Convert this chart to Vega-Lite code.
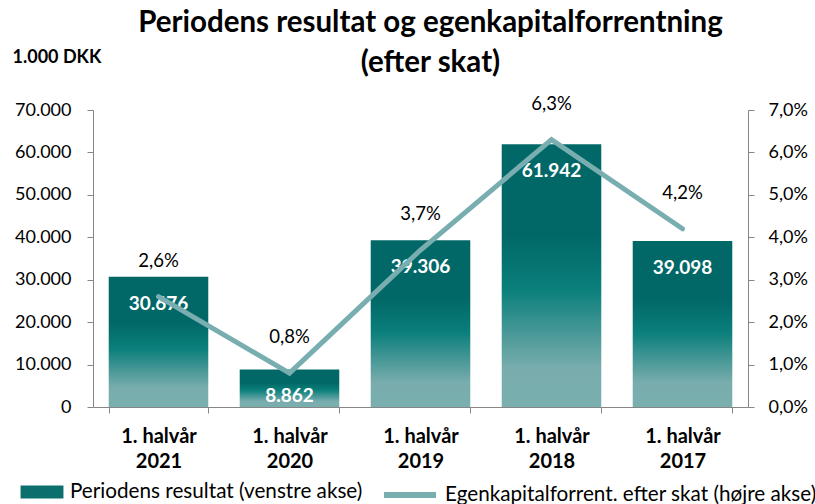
{
  "$schema": "https://vega.github.io/schema/vega-lite/v6.json",
  "width": 655,
  "height": 297,
  "autosize": "none",
  "padding": {"left": 93, "top": 110, "right": 67, "bottom": 97},
  "background": "white",
  "config": {
    "font": "Lato",
    "locale": {"number": {"decimal": ",", "thousands": ".", "grouping": [3], "currency": ["", " kr."]}},
    "view": {"stroke": null},
    "axis": {"grid": false, "domainColor": "#868686", "tickColor": "#868686", "labelColor": "#000000", "labelFont": "Lato", "labelFontSize": 18, "tickSize": 6}
  },
  "title": {
    "text": ["Periodens resultat og egenkapitalforrentning", "(efter skat)"],
    "font": "Lato",
    "fontSize": 29.5,
    "fontWeight": "bold",
    "color": "#000000",
    "anchor": "middle",
    "lineHeight": 40,
    "offset": -27,
    "dx": 10,
    "dy": 3
  },
  "data": {
    "values": [
      {"period": "2021", "resultat": 30676, "ekf": 0.026},
      {"period": "2020", "resultat": 8862, "ekf": 0.008},
      {"period": "2019", "resultat": 39306, "ekf": 0.037},
      {"period": "2018", "resultat": 61942, "ekf": 0.063},
      {"period": "2017", "resultat": 39098, "ekf": 0.042}
    ]
  },
  "encoding": {
    "x": {
      "field": "period",
      "type": "nominal",
      "sort": null,
      "scale": {"paddingInner": 0.24, "paddingOuter": 0.12},
      "axis": {
        "title": null,
        "labelAngle": 0,
        "labelExpr": "datum.label ? ['1. halvår', datum.label] : ''",
        "labelFontWeight": "bold",
        "labelFontSize": 20,
        "labelLineHeight": 25,
        "labelPadding": 13,
        "tickBand": "extent",
        "tickSize": 6
      }
    }
  },
  "layer": [
    {
      "encoding": {
        "y": {
          "field": "resultat",
          "type": "quantitative",
          "scale": {"domain": [0, 70000]},
          "axis": {
            "orient": "left",
            "format": ",.0f",
            "tickCount": 7,
            "labelPadding": 16,
            "title": "1.000 DKK",
            "titleAngle": 0,
            "titleFontSize": 18,
            "titleFontWeight": "bold",
            "titleColor": "#000000",
            "titleAlign": "left",
            "titleBaseline": "middle",
            "titleX": -81,
            "titleY": -53
          }
        }
      },
      "layer": [
        {
          "mark": {
            "type": "bar",
            "color": {"gradient": "linear", "x1": 0, "y1": 0, "x2": 0, "y2": 1,
              "stops": [
                {"offset": 0, "color": "#016867"},
                {"offset": 0.35, "color": "#016867"},
                {"offset": 0.55, "color": "#0a7f7b"},
                {"offset": 0.85, "color": "#78acad"},
                {"offset": 1, "color": "#7aafb0"}
              ]}
          }
        },
        {
          "mark": {"type": "bar", "opacity": 0},
          "encoding": {
            "color": {
              "datum": "Periodens resultat (venstre akse)",
              "type": "nominal",
              "scale": {"range": ["#0b6f6d"]},
              "legend": {
                "title": null,
                "orient": "none",
                "legendX": -64,
                "legendY": 369,
                "symbolType": "M-1.65,-0.5H1.65V0.5H-1.65Z",
                "symbolSize": 676,
                "symbolOpacity": 1,
                "symbolStrokeWidth": 0,
                "labelOffset": 15,
                "labelFontSize": 20.7,
                "labelColor": "#000000",
                "labelFont": "Lato",
                "labelLimit": 400
              }
            }
          }
        },
        {
          "mark": {"type": "text", "color": "white", "fontWeight": "bold", "fontSize": 19, "baseline": "middle", "dy": 27},
          "encoding": {
            "text": {"field": "resultat", "type": "quantitative", "format": ",.0f"}
          }
        }
      ]
    },
    {
      "encoding": {
        "y": {
          "field": "ekf",
          "type": "quantitative",
          "scale": {"domain": [0, 0.07]},
          "axis": {"orient": "right", "format": ".1%", "tickCount": 7, "labelPadding": 14, "title": null}
        }
      },
      "layer": [
        {
          "mark": {"type": "line", "strokeWidth": 5, "strokeCap": "round", "strokeJoin": "miter"},
          "encoding": {
            "color": {
              "datum": "Egenkapitalforrent. efter skat (højre akse)",
              "type": "nominal",
              "scale": {"range": ["#79aeb0"]},
              "legend": {
                "title": null,
                "orient": "none",
                "legendX": 288,
                "legendY": 356,
                "symbolType": "stroke",
                "symbolSize": 2704,
                "symbolStrokeWidth": 6,
                "symbolStrokeCap": "round",
                "labelOffset": 6,
                "labelFontSize": 20.7,
                "labelColor": "#000000",
                "labelFont": "Lato",
                "labelLimit": 600
              }
            }
          }
        },
        {
          "mark": {"type": "text", "color": "black", "fontSize": 18.5, "baseline": "middle", "dy": -36},
          "encoding": {
            "text": {"field": "ekf", "type": "quantitative", "format": ".1%"}
          }
        }
      ]
    }
  ],
  "resolve": {"scale": {"y": "independent", "color": "independent"}}
}
